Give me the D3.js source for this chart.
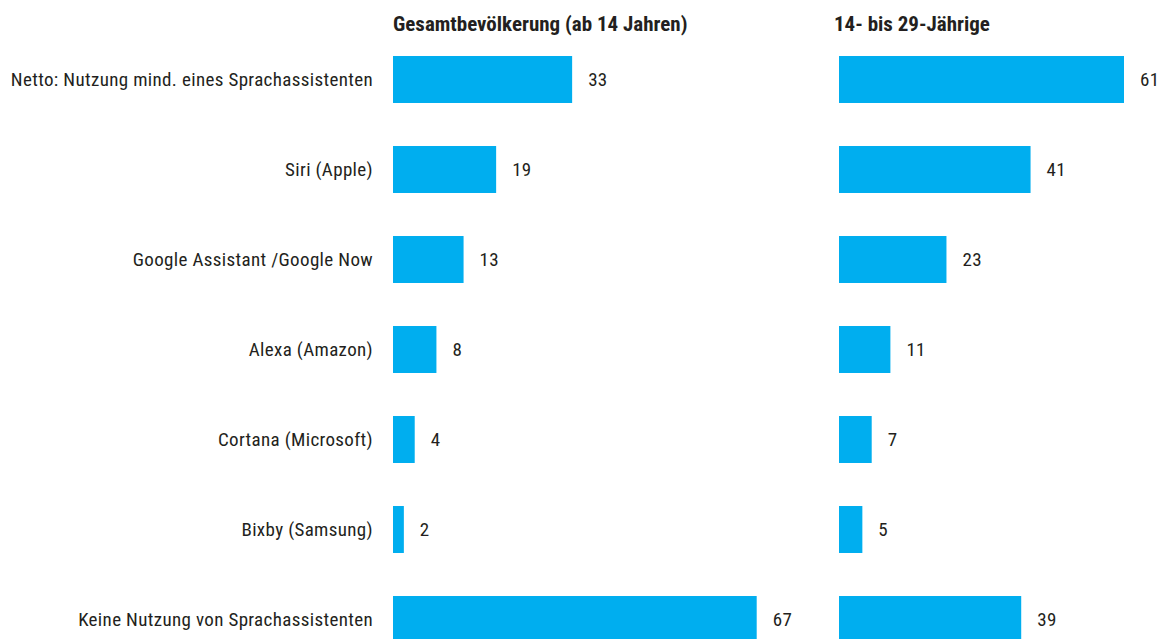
<!DOCTYPE html>
<html>
<head>
<meta charset="utf-8">
<script src="https://cdn.jsdelivr.net/npm/d3@7"></script>
<style>
  html, body { margin: 0; padding: 0; background: #fff; }
  svg text { font-family: "Liberation Sans Narrow", "Roboto Condensed", "DejaVu Sans Condensed", sans-serif; fill: #231f20; }
  .title { font-weight: bold; font-size: 21px; }
  .cat, .val { font-size: 19px; letter-spacing: 0.35px; }
</style>
</head>
<body>
<svg id="chart" width="1162" height="639"></svg>
<script>
// Nutzung von Sprachassistenten, Angaben in %
const categories = [
  'Netto: Nutzung mind. eines Sprachassistenten',
  'Siri (Apple)',
  'Google Assistant /Google Now',
  'Alexa (Amazon)',
  'Cortana (Microsoft)',
  'Bixby (Samsung)',
  'Keine Nutzung von Sprachassistenten'
];
const totalValues = [33, 19, 13, 8, 4, 2, 67];
const youngValues = [61, 41, 23, 11, 7, 5, 39];
const panelTitles = ['Gesamtbevölkerung (ab 14 Jahren)', '14- bis 29-Jährige'];

const BAR_COLOR = '#00aeef';
const svg = d3.select('#chart');

const y = d3.scaleBand()
  .domain(categories)
  .range([34.5, 664.5])
  .paddingInner(0.478)
  .paddingOuter(0.239);

// category labels, right aligned left of first panel
svg.append('g').selectAll('text')
  .data(categories)
  .join('text')
  .attr('class', 'cat')
  .attr('x', 373)
  .attr('y', d => y(d) + y.bandwidth() / 2)
  .attr('dy', '0.36em')
  .attr('text-anchor', 'end')
  .text(d => d);

const panels = [
  { title: panelTitles[0], values: totalValues, x0: 393, xMax: 67, xEnd: 756.7, titleX: 393 },
  { title: panelTitles[1], values: youngValues, x0: 839, xMax: 61, xEnd: 1124, titleX: 834 }
];

panels.forEach(p => {
  const x = d3.scaleLinear().domain([0, p.xMax]).range([p.x0, p.xEnd]);
  const g = svg.append('g');

  g.append('text')
    .attr('class', 'title')
    .attr('x', p.titleX)
    .attr('y', 31)
    .text(p.title);

  g.selectAll('rect')
    .data(p.values)
    .join('rect')
    .attr('x', x(0))
    .attr('y', (d, i) => y(categories[i]))
    .attr('width', d => x(d) - x(0))
    .attr('height', y.bandwidth())
    .attr('fill', BAR_COLOR);

  g.selectAll('text.val')
    .data(p.values)
    .join('text')
    .attr('class', 'val')
    .attr('x', d => x(d) + 16)
    .attr('y', (d, i) => y(categories[i]) + y.bandwidth() / 2)
    .attr('dy', '0.36em')
    .text(d => d);
});
</script>
</body>
</html>
